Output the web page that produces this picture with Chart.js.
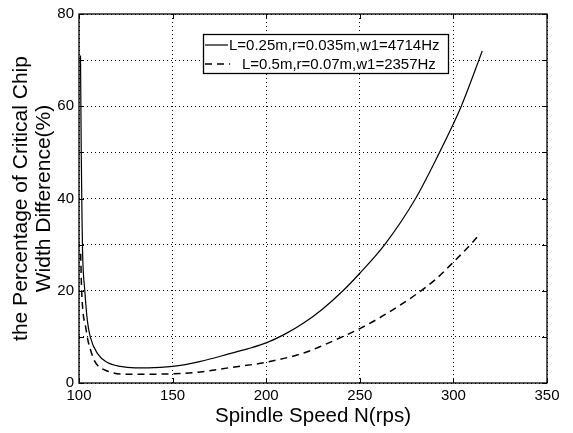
<!DOCTYPE html>
<html>
<head>
<meta charset="utf-8">
<script src="https://cdn.jsdelivr.net/npm/chart.js@4.4.1/dist/chart.umd.min.js"></script>
<style>
  html, body { margin: 0; padding: 0; background: #fff; }
  #wrap { width: 573px; height: 433px; }
</style>
</head>
<body>
<div id="wrap"><canvas id="myChart" width="573" height="433"></canvas></div>
<script>
// values
const speedSolid = [100.8, 101.2, 101.6, 101.9, 103.1, 104.5, 106, 110, 115, 122, 130, 137, 150, 165, 180, 190, 200, 210, 220, 230, 241, 250, 263.3, 279.8, 292.6, 300, 304.2, 313.6, 315.4]
const diffSolid = [71, 50, 36, 28.4, 20, 13.4, 10, 6.3, 4.5, 3.6, 3.3, 3.3, 3.6, 4.7, 6.3, 7.4, 8.7, 10.6, 13.0, 16.0, 20, 23.8, 30, 40, 50, 56.2, 60, 70, 72]
const speedDashed = [100.9, 101.3, 102, 103.6, 105, 106.3, 108, 110, 115, 124, 137, 150, 165, 180, 200, 220, 230, 240, 250, 260, 270, 280, 290, 300, 310, 314]
const diffDashed = [28, 21.3, 16, 12, 8.8, 7, 5, 3.8, 2.6, 1.9, 1.9, 2.0, 2.4, 3.3, 4.5, 6.5, 8.1, 9.9, 11.8, 14.0, 16.5, 19.2, 22.3, 26.2, 30.4, 32.3]
const seriesNames = ['L=0.25m,r=0.035m,w1=4714Hz', 'L=0.5m,r=0.07m,w1=2357Hz']
const xTicks = [100, 150, 200, 250, 300, 350]
const yTicks = [0, 20, 40, 60, 80]

const font = '"Liberation Sans", Arial, sans-serif'
const ctx = document.getElementById('myChart')

function toPoints(xs, ys) {
    return xs.map((x, i) => ({x: x, y: ys[i]}))
}

// box, inward ticks and the legend, drawn like the matlab figure
const frame = {
    id: 'frame',
    afterDraw(chart) {
        const c = chart.ctx
        const a = chart.chartArea
        const xs = chart.scales.x
        const ys = chart.scales.y
        c.save()
        c.strokeStyle = '#000'
        c.lineWidth = 1.3
        c.setLineDash([])
        c.strokeRect(a.left, a.top, a.right - a.left, a.bottom - a.top)
        c.lineWidth = 1
        c.beginPath()
        xTicks.forEach(v => {
            const px = Math.round(xs.getPixelForValue(v)) + 0.5
            c.moveTo(px, a.bottom); c.lineTo(px, a.bottom - 5)
            c.moveTo(px, a.top); c.lineTo(px, a.top + 5)
        })
        for (let v = 0; v <= 80; v += 10) {
            const py = Math.round(ys.getPixelForValue(v)) + 0.5
            c.moveTo(a.left, py); c.lineTo(a.left + 5, py)
            c.moveTo(a.right, py); c.lineTo(a.right - 5, py)
        }
        c.stroke()

        // legend box
        const lx = 203, ly = 34, lw = 245, lh = 39
        c.fillStyle = '#fff'
        c.fillRect(lx, ly, lw, lh)
        c.lineWidth = 1.3
        c.strokeRect(lx + 0.5, ly + 0.5, lw, lh)
        c.fillStyle = '#000'
        c.font = '15px ' + font
        c.textBaseline = 'middle'
        c.lineWidth = 1.2
        c.beginPath(); c.moveTo(205, 45); c.lineTo(228, 45); c.stroke()
        c.fillText(seriesNames[0], 229, 46)
        c.lineWidth = 1.5
        c.setLineDash([7, 5])
        c.beginPath(); c.moveTo(205, 64); c.lineTo(230, 64); c.stroke()
        c.setLineDash([])
        c.fillText(seriesNames[1], 242, 65)
        c.restore()
    }
}

new Chart(ctx, {
    type: 'scatter',
    data: {
        datasets: [{
            label: seriesNames[0],
            data: toPoints(speedSolid, diffSolid),
            showLine: true,
            borderColor: '#000',
            borderWidth: 1.2,
            pointRadius: 0,
            cubicInterpolationMode: 'monotone'
        }, {
            label: seriesNames[1],
            data: toPoints(speedDashed, diffDashed),
            showLine: true,
            borderColor: '#000',
            borderWidth: 1.5,
            borderDash: [7, 5],
            pointRadius: 0,
            cubicInterpolationMode: 'monotone'
        }]
    },
    options: {
        responsive: false,
        animation: false,
        layout: {padding: {top: 9, right: 26, left: 0, bottom: 0}},
        plugins: {
            legend: {display: false},
            tooltip: {enabled: false}
        },
        scales: {
            x: {
                type: 'linear',
                min: 100,
                max: 350,
                afterBuildTicks: s => { s.ticks = xTicks.map(v => ({value: v})) },
                afterFit: s => { s.height = 50 },
                grid: {color: '#000', drawTicks: false, lineWidth: 1},
                border: {display: false, dash: [1, 3]},
                ticks: {color: '#000', font: {family: font, size: 15}, padding: 4, maxRotation: 0},
                title: {display: true, text: 'Spindle Speed N(rps)', color: '#000', font: {family: font, size: 20.5}, padding: {top: 0}}
            },
            y: {
                min: 0,
                max: 80,
                afterBuildTicks: s => {
                    const t = []
                    for (let v = 0; v <= 80; v += 10) t.push({value: v})
                    s.ticks = t
                },
                afterFit: s => { s.width = 79 },
                grid: {color: '#000', drawTicks: false, lineWidth: 1},
                border: {display: false, dash: [1, 3]},
                ticks: {
                    color: '#000',
                    font: {family: font, size: 15},
                    padding: 5,
                    callback: v => yTicks.includes(v) ? v : ''
                },
                title: {
                    display: true,
                    text: ['the Percentage of Critical Chip', 'Width Difference(%)'],
                    color: '#000',
                    font: {family: font, size: 21, lineHeight: 1.1},
                    padding: {top: 10, bottom: 0}
                }
            }
        }
    },
    plugins: [frame]
});
</script>
</body>
</html>
